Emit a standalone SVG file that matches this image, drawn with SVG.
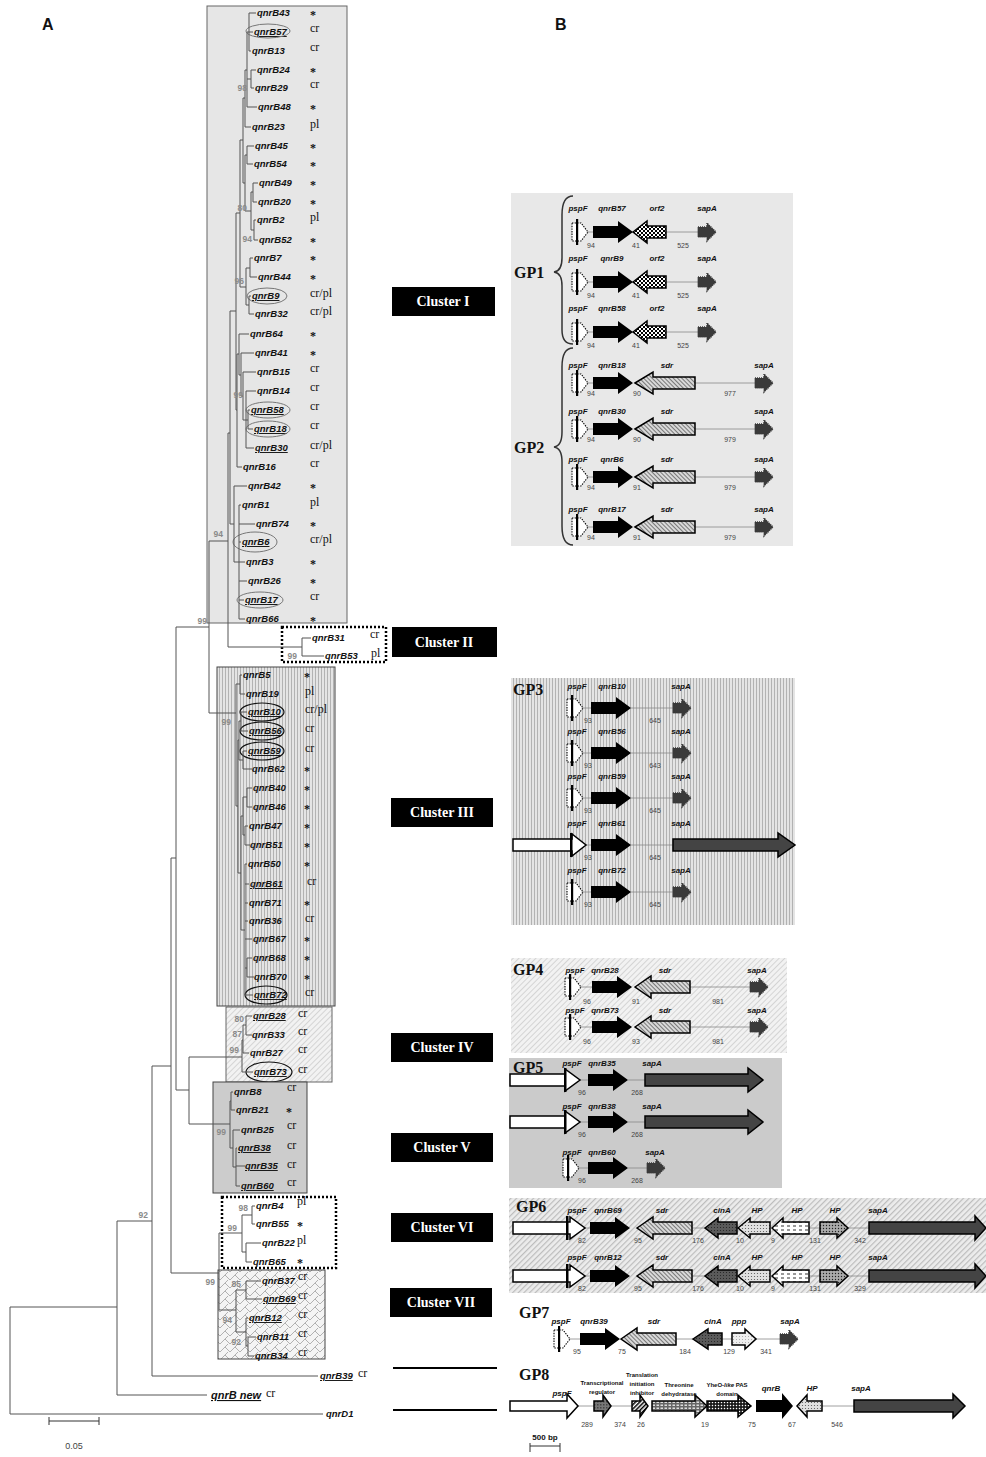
<svg xmlns="http://www.w3.org/2000/svg" xmlns:xlink="http://www.w3.org/1999/xlink" width="986" height="1457" viewBox="0 0 986 1457">
<style>
.lf{font-family:"Liberation Sans",Arial,sans-serif;font-weight:bold;font-style:italic;font-size:9.5px;fill:#111}
.an{font-family:"Liberation Serif","Times New Roman",serif;font-size:12px;fill:#111}
.as{font-family:"Liberation Serif","Times New Roman",serif;font-size:12px;font-weight:bold;fill:#111}
.bs{font-family:"Liberation Sans",Arial,sans-serif;font-weight:bold;font-size:8.5px;fill:#8a8a8a;text-anchor:end}
.gl{font-family:"Liberation Sans",Arial,sans-serif;font-weight:bold;font-style:italic;font-size:8px;text-anchor:middle;fill:#111}
.gs{font-family:"Liberation Sans",Arial,sans-serif;font-weight:bold;font-size:6px;text-anchor:middle;fill:#111}
.nm{font-family:"Liberation Sans",Arial,sans-serif;font-size:7px;fill:#444;text-anchor:middle}
.gp{font-family:"Liberation Serif","Times New Roman",serif;font-weight:bold;font-size:16px;fill:#111}
.cl{font-family:"Liberation Serif","Times New Roman",serif;font-weight:bold;font-size:14px;fill:#fff;text-anchor:middle}
.hd{font-family:"Liberation Sans",Arial,sans-serif;font-weight:bold;font-size:16px;fill:#111}
.u{text-decoration:underline}
.tr{stroke:#555;stroke-width:1;fill:none}
.ln{stroke:#888;stroke-width:0.8;fill:none}
.el{fill:none;stroke:#777;stroke-width:1}
.elk{fill:none;stroke:#111;stroke-width:1.2}
.ol{stroke:#000;stroke-width:1.5}
</style>
<defs>
<pattern id="pV" width="3" height="3" patternUnits="userSpaceOnUse"><rect width="3" height="3" fill="#e4e4e4"/><rect width="1" height="3" fill="#b2b2b2"/></pattern>
<pattern id="pD" width="4" height="4" patternUnits="userSpaceOnUse" patternTransform="rotate(45)"><rect width="4" height="4" fill="#f2f2f2"/><rect width="1" height="4" fill="#d4d4d4"/></pattern>
<pattern id="pG6" width="4" height="4" patternUnits="userSpaceOnUse" patternTransform="rotate(45)"><rect width="4" height="4" fill="#ececec"/><rect width="1.2" height="4" fill="#bcbcbc"/></pattern>
<pattern id="pZ" width="10" height="8" patternUnits="userSpaceOnUse"><rect width="10" height="8" fill="#f4f4f4"/><path d="M0,8 L5,3 L10,8 M5,3 L8,0" stroke="#a0a0a0" fill="none" stroke-width="0.8"/></pattern>
<pattern id="pChk" width="4" height="4" patternUnits="userSpaceOnUse"><rect width="4" height="4" fill="#fff"/><rect width="2" height="2" fill="#000"/><rect x="2" y="2" width="2" height="2" fill="#000"/></pattern>
<pattern id="pSdr" width="3" height="3" patternUnits="userSpaceOnUse" patternTransform="rotate(-45)"><rect width="3" height="3" fill="#d9d9d9"/><rect width="1" height="3" fill="#777"/></pattern>
<pattern id="pCin" width="3" height="3" patternUnits="userSpaceOnUse"><rect width="3" height="3" fill="#5a5a5a"/><rect width="1" height="1" fill="#2a2a2a"/></pattern>
<pattern id="pHpDot" width="3" height="3" patternUnits="userSpaceOnUse"><rect width="3" height="3" fill="#e0e0e0"/><circle cx="1.5" cy="1.5" r="0.6" fill="#555"/></pattern>
<pattern id="pHpDash" width="6" height="4" patternUnits="userSpaceOnUse"><rect width="6" height="4" fill="#fff"/><rect x="1" y="1.5" width="3" height="1" fill="#333"/></pattern>
<pattern id="pHpDot2" width="3" height="3" patternUnits="userSpaceOnUse"><rect width="3" height="3" fill="#aaa"/><circle cx="1.5" cy="1.5" r="0.7" fill="#222"/></pattern>
<pattern id="pPpp" width="3" height="3" patternUnits="userSpaceOnUse"><rect width="3" height="3" fill="#eee"/><circle cx="1.5" cy="1.5" r="0.5" fill="#999"/></pattern>
<pattern id="pTreg" width="3" height="3" patternUnits="userSpaceOnUse"><rect width="3" height="3" fill="#777"/><rect width="1.5" height="1.5" fill="#444"/></pattern>
<pattern id="pTinh" width="3" height="3" patternUnits="userSpaceOnUse" patternTransform="rotate(45)"><rect width="3" height="3" fill="#fff"/><rect width="1.5" height="3" fill="#000"/></pattern>
<pattern id="pThr" width="4" height="3" patternUnits="userSpaceOnUse"><rect width="4" height="3" fill="#666"/><rect x="0.5" y="0.5" width="2.5" height="1.5" fill="#ddd"/></pattern>
<pattern id="pYheo" width="3" height="3" patternUnits="userSpaceOnUse"><rect width="3" height="3" fill="#111"/><rect x="0.8" y="0.8" width="1.4" height="1.4" fill="#fff"/></pattern>
<g id="pspD"><path d="M0,-9 L9,-9 L16,0 L9,9 L0,9 Z" fill="#fff" stroke="#000" stroke-width="1.1" stroke-dasharray="1.4,1.2"/><rect x="4" y="-13" width="2.2" height="26" fill="#000"/></g>
<g id="qB"><path d="M0,-6 L25,-6 L25,-11 L40,0 L25,11 L25,6 L0,6 Z" fill="#000"/></g>
<g id="sapS"><path d="M0,-5 L9,-5 L9,-9 L18,0 L9,9 L9,5 L0,5 Z" fill="#3a3a3a" stroke="#3a3a3a" stroke-width="1.4" stroke-dasharray="1,1"/></g>
<g id="orf2S"><path d="M0,0 L14,-11 L14,-6 L33,-6 L33,6 L14,6 L14,11 Z" fill="url(#pChk)" class="ol"/></g>
<g id="sdr60"><path d="M0,0 L18,-11 L18,-6 L60,-6 L60,6 L18,6 L18,11 Z" fill="url(#pSdr)" class="ol"/></g>
<g id="sdr55"><path d="M0,0 L16,-11 L16,-6 L55,-6 L55,6 L16,6 L16,11 Z" fill="url(#pSdr)" class="ol"/></g>
</defs>
<rect width="986" height="1457" fill="#fff"/>
<text class="hd" x="42" y="30">A</text>
<text class="hd" x="555" y="30">B</text>

<g id="cluster1">
<rect x="207" y="6" width="140" height="617" fill="#e6e6e6" stroke="#666"/>
<g class="lf">
<text x="257" y="16">qnrB43</text><text x="254" y="35" class="u">qnrB57</text><text x="252" y="54">qnrB13</text><text x="257" y="73">qnrB24</text><text x="255" y="91">qnrB29</text><text x="258" y="110">qnrB48</text><text x="252" y="130">qnrB23</text><text x="255" y="149">qnrB45</text><text x="254" y="167">qnrB54</text><text x="259" y="186">qnrB49</text><text x="258" y="205">qnrB20</text><text x="257" y="223">qnrB2</text><text x="259" y="243">qnrB52</text><text x="254" y="261">qnrB7</text><text x="258" y="280">qnrB44</text><text x="252" y="299" class="u">qnrB9</text><text x="255" y="317">qnrB32</text><text x="250" y="337">qnrB64</text><text x="255" y="356">qnrB41</text><text x="257" y="375">qnrB15</text><text x="257" y="394">qnrB14</text><text x="251" y="413" class="u">qnrB58</text><text x="254" y="432" class="u">qnrB18</text><text x="255" y="451" class="u">qnrB30</text><text x="243" y="470">qnrB16</text><text x="248" y="489">qnrB42</text><text x="242" y="508">qnrB1</text><text x="256" y="527">qnrB74</text><text x="242" y="545" class="u">qnrB6</text><text x="246" y="565">qnrB3</text><text x="248" y="584">qnrB26</text><text x="245" y="603" class="u">qnrB17</text><text x="246" y="622">qnrB66</text>
</g>
<g class="an">
<text x="310" y="32">cr</text><text x="310" y="51">cr</text><text x="310" y="88">cr</text><text x="310" y="128">pl</text><text x="310" y="221">pl</text><text x="310" y="297">cr/pl</text><text x="310" y="315">cr/pl</text><text x="310" y="372">cr</text><text x="310" y="391">cr</text><text x="310" y="410">cr</text><text x="310" y="429">cr</text><text x="310" y="449">cr/pl</text><text x="310" y="467">cr</text><text x="310" y="506">pl</text><text x="310" y="543">cr/pl</text><text x="310" y="600">cr</text>
</g>
<g class="as">
<text x="310" y="19">*</text><text x="310" y="76">*</text><text x="310" y="113">*</text><text x="310" y="152">*</text><text x="310" y="170">*</text><text x="310" y="189">*</text><text x="310" y="208">*</text><text x="310" y="246">*</text><text x="310" y="264">*</text><text x="310" y="283">*</text><text x="310" y="340">*</text><text x="310" y="359">*</text><text x="310" y="492">*</text><text x="310" y="530">*</text><text x="310" y="568">*</text><text x="310" y="587">*</text><text x="310" y="625">*</text>
</g>
<ellipse class="el" cx="268" cy="31" rx="22" ry="7"/><ellipse class="el" cx="267" cy="296" rx="20" ry="8"/><ellipse class="el" cx="268" cy="410" rx="22" ry="8"/><ellipse class="el" cx="268" cy="429" rx="22" ry="8"/><ellipse class="el" cx="255" cy="542" rx="22" ry="10"/><ellipse class="el" cx="260" cy="600" rx="23" ry="8"/>
</g>

<g id="cluster2">
<rect x="282" y="627" width="104" height="35" fill="#fff" stroke="#000" stroke-width="2.5" stroke-dasharray="2,2"/>
<text class="lf" x="312" y="641">qnrB31</text><text class="lf" x="325" y="659">qnrB53</text>
<text class="an" x="370" y="638">cr</text><text class="an" x="371" y="657">pl</text>
</g>

<g id="cluster3">
<rect x="217" y="667" width="118" height="339" fill="url(#pV)" stroke="#444"/>
<g class="lf">
<text x="243" y="678">qnrB5</text><text x="246" y="697">qnrB19</text><text x="248" y="715" class="u">qnrB10</text><text x="249" y="734" class="u">qnrB56</text><text x="248" y="754" class="u">qnrB59</text><text x="252" y="772">qnrB62</text><text x="253" y="791">qnrB40</text><text x="253" y="810">qnrB46</text><text x="249" y="829">qnrB47</text><text x="250" y="848">qnrB51</text><text x="248" y="867">qnrB50</text><text x="250" y="887" class="u">qnrB61</text><text x="249" y="906">qnrB71</text><text x="249" y="924">qnrB36</text><text x="253" y="942">qnrB67</text><text x="253" y="961">qnrB68</text><text x="254" y="980">qnrB70</text><text x="254" y="998" class="u">qnrB72</text>
</g>
<g class="an">
<text x="305" y="695">pl</text><text x="305" y="713">cr/pl</text><text x="305" y="732">cr</text><text x="305" y="752">cr</text><text x="307" y="885">cr</text><text x="305" y="922">cr</text><text x="305" y="996">cr</text>
</g>
<g class="as">
<text x="304" y="681">*</text><text x="304" y="775">*</text><text x="304" y="794">*</text><text x="304" y="813">*</text><text x="304" y="832">*</text><text x="304" y="851">*</text><text x="304" y="870">*</text><text x="304" y="909">*</text><text x="304" y="945">*</text><text x="304" y="964">*</text><text x="304" y="983">*</text>
</g>
<ellipse class="elk" cx="262" cy="712" rx="22" ry="9"/><ellipse class="elk" cx="262" cy="731" rx="22" ry="9"/><ellipse class="elk" cx="262" cy="751" rx="22" ry="9"/><ellipse class="elk" cx="266" cy="995" rx="21" ry="9"/>
</g>

<g id="cluster4">
<rect x="226" y="1007" width="106" height="75" fill="url(#pD)" stroke="#666"/>
<text class="lf u" x="253" y="1019">qnrB28</text><text class="lf" x="252" y="1038">qnrB33</text><text class="lf" x="250" y="1056">qnrB27</text><text class="lf u" x="254" y="1075">qnrB73</text>
<text class="an" x="298" y="1017">cr</text><text class="an" x="298" y="1035">cr</text><text class="an" x="298" y="1053">cr</text><text class="an" x="298" y="1073">cr</text>
<ellipse class="elk" cx="269" cy="1072" rx="23" ry="10"/>
</g>

<g id="cluster5">
<rect x="213" y="1082" width="94" height="111" fill="#cccccc" stroke="#444"/>
<text class="lf" x="234" y="1095">qnrB8</text><text class="lf" x="236" y="1113">qnrB21</text><text class="lf" x="241" y="1133">qnrB25</text><text class="lf u" x="238" y="1151">qnrB38</text><text class="lf u" x="245" y="1169">qnrB35</text><text class="lf u" x="241" y="1189">qnrB60</text>
<text class="an" x="287" y="1091">cr</text><text class="as" x="286" y="1116">*</text><text class="an" x="287" y="1129">cr</text><text class="an" x="287" y="1149">cr</text><text class="an" x="287" y="1168">cr</text><text class="an" x="287" y="1186">cr</text>
</g>

<g id="cluster6">
<rect x="222" y="1197" width="114" height="71" fill="#fff" stroke="#000" stroke-width="2.5" stroke-dasharray="2,2"/>
<text class="lf" x="256" y="1209">qnrB4</text><text class="lf" x="256" y="1227">qnrB55</text><text class="lf" x="262" y="1246">qnrB22</text><text class="lf" x="253" y="1265">qnrB65</text>
<text class="an" x="297" y="1205">pl</text><text class="as" x="297" y="1230">*</text><text class="an" x="297" y="1244">pl</text><text class="as" x="297" y="1267">*</text>
</g>

<g id="cluster7">
<rect x="218" y="1270" width="107" height="89" fill="url(#pZ)" stroke="#444"/>
<text class="lf" x="262" y="1284">qnrB37</text><text class="lf u" x="263" y="1302">qnrB69</text><text class="lf u" x="249" y="1321">qnrB12</text><text class="lf" x="257" y="1340">qnrB11</text><text class="lf" x="255" y="1359">qnrB34</text>
<text class="an" x="298" y="1280">cr</text><text class="an" x="298" y="1299">cr</text><text class="an" x="298" y="1318">cr</text><text class="an" x="298" y="1337">cr</text><text class="an" x="298" y="1356">cr</text>
</g>

<g id="outgroups">
<text class="lf u" x="320" y="1379">qnrB39</text><text class="an" x="358" y="1377">cr</text>
<text class="lf u" x="211" y="1399" style="font-size:11px">qnrB new</text><text class="an" x="266" y="1397">cr</text>
<text class="lf" x="326" y="1417">qnrD1</text>
</g>

<g id="connectors">
<path class="tr" d="M249,13V51M249,13H256M249,32H253M249,51H251M251,70V88M251,70H256M251,88H254M247,32V107M247,32H249M247,79H251M247,107H257M245,70V127M245,70H247M245,127H251M247,146V164M247,146H254M247,164H253M253,183V202M253,183H258M253,202H257M254,220V240M254,220H256M254,240H258M251,192V230M251,192H253M251,230H254M245,155V211M245,155H247M245,211H251M243,98V183M243,98H245M243,183H245M250,258V277M250,258H253M250,277H257M249,296V314M249,296H251M249,314H254M246,268V305M246,268H250M246,305H249M240,140V287M240,140H243M240,287H246M248,410V429M248,410H250M248,429H253M246,391V448M246,391H256M246,420H248M246,448H254M243,372V420M243,372H256M243,420H246M241,353V396M241,353H254M241,396H243M239,334V375M239,334H249M239,375H241M237,354V467M237,354H239M237,467H242M236,213V410M236,213H240M236,410H237M239,505V619M239,505H241M239,524H255M239,542H241M239,562H245M239,581H247M239,600H244M239,619H245M234,486V562M234,486H247M234,562H239M230,311V524M230,311H236M230,524H234M228,433V647M228,433H230M228,647H302"/>
<path class="tr" d="M302,638V656M302,638H311M302,656H324"/>
<path class="tr" d="M209,541V713M209,541H228M209,713H236M176,627V1090M176,627H209M171,858V1273M171,858H176M189,1057V1124M176,1090H189M189,1057H242M189,1124H230M152,1066V1376M152,1066H171M152,1376H318M117,1221V1395M117,1221H152M117,1395H207M10,1307V1414M10,1307H117M10,1414H323M171,1273H219"/>
<path class="tr" d="M240,675V694M240,675H242M240,694H245M241,712V731M241,712H247M241,731H248M243,751V769M243,751H247M243,769H252M239,721V760M239,721H241M239,760H243M247,788V807M247,788H252M247,807H252M245,826V845M245,826H248M245,845H250M243,797V835M243,797H247M243,835H245M247,958V977M247,958H252M247,977H254M245,864V995M245,864H247M245,884H249M245,903H248M245,921H248M245,939H252M245,968H247M245,995H253M241,816V930M241,816H243M241,930H245M238,740V873M238,740H239M238,873H241M236,684V806M236,684H240M236,806H238"/>
<path class="tr" d="M246,1016V1035M246,1016H252M246,1035H252M243,1025V1053M243,1025H246M243,1053H249M242,1040V1072M242,1040H243M242,1072H253"/>
<path class="tr" d="M231,1092V1110M231,1092H233M231,1110H235M236,1148V1186M236,1148H237M236,1166H245M236,1186H240M233,1130V1167M233,1130H240M233,1167H236M230,1101V1148M230,1101H231M230,1148H233"/>
<path class="tr" d="M252,1206V1224M252,1206H255M252,1224H255M246,1243V1262M246,1243H261M246,1262H252M242,1215V1252M242,1215H252M242,1252H246M219,1233V1310M219,1233H242"/>
<path class="tr" d="M246,1281V1299M246,1281H261M246,1299H262M248,1337V1356M248,1337H256M248,1356H254M246,1318V1346M246,1318H248M246,1346H248M236,1290V1332M236,1290H246M236,1332H246M219,1310H236"/>
</g>

<g id="bootstraps" class="bs">
<text x="247" y="91">98</text><text x="247" y="211">80</text><text x="252" y="242">94</text><text x="244" y="284">96</text><text x="243" y="398">99</text><text x="223" y="537">94</text><text x="207" y="624">99</text><text x="297" y="659">99</text><text x="231" y="725">99</text><text x="244" y="1022">80</text><text x="242" y="1037">87</text><text x="239" y="1053">99</text><text x="226" y="1135">99</text><text x="248" y="1211">98</text><text x="237" y="1231">99</text><text x="148" y="1218">92</text><text x="215" y="1285">99</text><text x="241" y="1287">85</text><text x="232" y="1323">94</text><text x="241" y="1345">92</text>
</g>

<g id="scaleA">
<path d="M49,1421H99M49,1417V1425M99,1417V1425" stroke="#333" stroke-width="1" fill="none"/>
<text class="nm" x="74" y="1449" style="font-size:9px">0.05</text>
</g>

<g id="label-c1"><rect x="392" y="287" width="103" height="29" fill="#000"/><text class="cl" x="443" y="306">Cluster I</text></g>
<g id="label-c2"><rect x="392" y="627" width="105" height="30" fill="#000"/><text class="cl" x="444" y="647">Cluster II</text></g>
<g id="label-c3"><rect x="391" y="798" width="102" height="29" fill="#000"/><text class="cl" x="442" y="817">Cluster III</text></g>
<g id="label-c4"><rect x="391" y="1033" width="102" height="29" fill="#000"/><text class="cl" x="442" y="1052">Cluster IV</text></g>
<g id="label-c5"><rect x="391" y="1133" width="102" height="29" fill="#000"/><text class="cl" x="442" y="1152">Cluster V</text></g>
<g id="label-c6"><rect x="391" y="1213" width="102" height="29" fill="#000"/><text class="cl" x="442" y="1232">Cluster VI</text></g>
<g id="label-c7"><rect x="390" y="1288" width="102" height="29" fill="#000"/><text class="cl" x="441" y="1307">Cluster VII</text></g>
<g id="leaders"><path d="M393,1368H497M393,1410H497" stroke="#000" stroke-width="2"/></g>

<g id="gp12">
<rect x="511" y="193" width="282" height="353" fill="#e8e8e8"/>
<text class="gp" x="514" y="278">GP1</text>
<text class="gp" x="514" y="453">GP2</text>
<path d="M573,196 Q562,196 562,215 L562,258 Q562,271 554,272 Q562,273 562,286 L562,330 Q562,344 573,344" stroke="#333" stroke-width="1.5" fill="none"/>
<path d="M573,348 Q562,348 562,367 L562,432 Q562,446 554,447 Q562,448 562,462 L562,526 Q562,545 573,545" stroke="#333" stroke-width="1.5" fill="none"/>
<path class="ln" d="M588,232H593M666,232H698M588,282H593M666,282H698M588,332H593M666,332H698M588,383H593M695,383H755M588,429H593M695,429H755M588,477H593M695,477H755M588,527H593M695,527H755"/>
<use href="#pspD" x="572" y="232"/><use href="#qB" x="593" y="232"/><use href="#orf2S" x="633" y="232"/><use href="#sapS" x="698" y="232"/>
<use href="#pspD" x="572" y="282"/><use href="#qB" x="593" y="282"/><use href="#orf2S" x="633" y="282"/><use href="#sapS" x="698" y="282"/>
<use href="#pspD" x="572" y="332"/><use href="#qB" x="593" y="332"/><use href="#orf2S" x="633" y="332"/><use href="#sapS" x="698" y="332"/>
<use href="#pspD" x="572" y="383"/><use href="#qB" x="593" y="383"/><use href="#sdr60" x="635" y="383"/><use href="#sapS" x="755" y="383"/>
<use href="#pspD" x="572" y="429"/><use href="#qB" x="593" y="429"/><use href="#sdr60" x="635" y="429"/><use href="#sapS" x="755" y="429"/>
<use href="#pspD" x="572" y="477"/><use href="#qB" x="593" y="477"/><use href="#sdr60" x="635" y="477"/><use href="#sapS" x="755" y="477"/>
<use href="#pspD" x="572" y="527"/><use href="#qB" x="593" y="527"/><use href="#sdr60" x="635" y="527"/><use href="#sapS" x="755" y="527"/>
<g class="gl">
<text x="578" y="211">pspF</text><text x="612" y="211">qnrB57</text><text x="657" y="211">orf2</text><text x="707" y="211">sapA</text>
<text x="578" y="261">pspF</text><text x="612" y="261">qnrB9</text><text x="657" y="261">orf2</text><text x="707" y="261">sapA</text>
<text x="578" y="311">pspF</text><text x="612" y="311">qnrB58</text><text x="657" y="311">orf2</text><text x="707" y="311">sapA</text>
<text x="578" y="368">pspF</text><text x="612" y="368">qnrB18</text><text x="667" y="368">sdr</text><text x="764" y="368">sapA</text>
<text x="578" y="414">pspF</text><text x="612" y="414">qnrB30</text><text x="667" y="414">sdr</text><text x="764" y="414">sapA</text>
<text x="578" y="462">pspF</text><text x="612" y="462">qnrB6</text><text x="667" y="462">sdr</text><text x="764" y="462">sapA</text>
<text x="578" y="512">pspF</text><text x="612" y="512">qnrB17</text><text x="667" y="512">sdr</text><text x="764" y="512">sapA</text>
</g>
<g class="nm">
<text x="591" y="248">94</text><text x="636" y="248">41</text><text x="683" y="248">525</text>
<text x="591" y="298">94</text><text x="636" y="298">41</text><text x="683" y="298">525</text>
<text x="591" y="348">94</text><text x="636" y="348">41</text><text x="683" y="348">525</text>
<text x="591" y="396">94</text><text x="637" y="396">90</text><text x="730" y="396">977</text>
<text x="591" y="442">94</text><text x="637" y="442">90</text><text x="730" y="442">979</text>
<text x="591" y="490">94</text><text x="637" y="490">91</text><text x="730" y="490">979</text>
<text x="591" y="540">94</text><text x="637" y="540">91</text><text x="730" y="540">979</text>
</g>
</g>

<g id="gp3">
<rect x="511" y="678" width="284" height="247" fill="url(#pV)"/>
<text class="gp" x="513" y="695">GP3</text>
<path class="ln" d="M583,708H591M631,708H673M583,753H591M631,753H673M583,798H591M631,798H673M586,845H591M631,845H673M583,892H591M631,892H673"/>
<use href="#pspD" x="567" y="708"/><use href="#qB" x="591" y="708"/><use href="#sapS" x="673" y="708"/>
<use href="#pspD" x="567" y="753"/><use href="#qB" x="591" y="753"/><use href="#sapS" x="673" y="753"/>
<use href="#pspD" x="567" y="798"/><use href="#qB" x="591" y="798"/><use href="#sapS" x="673" y="798"/>
<path d="M513,839 L572,839 L572,834 L586,845 L572,856 L572,851 L513,851 Z" fill="#fff" class="ol"/><rect x="570" y="833" width="2.5" height="24" fill="#000"/>
<use href="#qB" x="591" y="845"/>
<path d="M673,839 L778,839 L778,833 L795,845 L778,857 L778,851 L673,851 Z" fill="#444" class="ol"/>
<use href="#pspD" x="567" y="892"/><use href="#qB" x="591" y="892"/><use href="#sapS" x="673" y="892"/>
<g class="gl">
<text x="577" y="689">pspF</text><text x="612" y="689">qnrB10</text><text x="681" y="689">sapA</text>
<text x="577" y="734">pspF</text><text x="612" y="734">qnrB56</text><text x="681" y="734">sapA</text>
<text x="577" y="779">pspF</text><text x="612" y="779">qnrB59</text><text x="681" y="779">sapA</text>
<text x="577" y="826">pspF</text><text x="612" y="826">qnrB61</text><text x="681" y="826">sapA</text>
<text x="577" y="873">pspF</text><text x="612" y="873">qnrB72</text><text x="681" y="873">sapA</text>
</g>
<g class="nm">
<text x="588" y="723">93</text><text x="655" y="723">645</text>
<text x="588" y="768">93</text><text x="655" y="768">643</text>
<text x="588" y="813">93</text><text x="655" y="813">645</text>
<text x="588" y="860">93</text><text x="655" y="860">645</text>
<text x="588" y="907">93</text><text x="655" y="907">645</text>
</g>
</g>

<g id="gp4">
<rect x="511" y="958" width="276" height="95" fill="url(#pD)"/>
<text class="gp" x="513" y="975">GP4</text>
<path class="ln" d="M581,987H592M690,987H750M581,1027H592M690,1027H750"/>
<use href="#pspD" x="565" y="987"/><use href="#qB" x="592" y="987"/><use href="#sdr55" x="635" y="987"/><use href="#sapS" x="750" y="987"/>
<use href="#pspD" x="565" y="1027"/><use href="#qB" x="592" y="1027"/><use href="#sdr55" x="635" y="1027"/><use href="#sapS" x="750" y="1027"/>
<g class="gl">
<text x="575" y="973">pspF</text><text x="605" y="973">qnrB28</text><text x="665" y="973">sdr</text><text x="757" y="973">sapA</text>
<text x="575" y="1013">pspF</text><text x="605" y="1013">qnrB73</text><text x="665" y="1013">sdr</text><text x="757" y="1013">sapA</text>
</g>
<g class="nm">
<text x="587" y="1004">96</text><text x="636" y="1004">91</text><text x="718" y="1004">981</text>
<text x="587" y="1044">96</text><text x="636" y="1044">93</text><text x="718" y="1044">981</text>
</g>
</g>

<g id="gp5">
<rect x="509" y="1058" width="273" height="130" fill="#cbcbcb"/>
<text class="gp" x="513" y="1073">GP5</text>
<path class="ln" d="M580,1080H588M628,1080H645M580,1122H588M628,1122H645M579,1168H588M628,1168H647"/>
<path d="M510,1074 L565,1074 L565,1069 L580,1080 L565,1091 L565,1086 L510,1086 Z" fill="#fff" class="ol"/><rect x="564" y="1068" width="2.5" height="24" fill="#000"/>
<use href="#qB" x="588" y="1080"/>
<path d="M645,1074 L748,1074 L748,1068 L763,1080 L748,1092 L748,1086 L645,1086 Z" fill="#444" class="ol"/>
<path d="M510,1116 L565,1116 L565,1111 L580,1122 L565,1133 L565,1128 L510,1128 Z" fill="#fff" class="ol"/><rect x="564" y="1110" width="2.5" height="24" fill="#000"/>
<use href="#qB" x="588" y="1122"/>
<path d="M645,1116 L748,1116 L748,1110 L763,1122 L748,1134 L748,1128 L645,1128 Z" fill="#444" class="ol"/>
<use href="#pspD" x="563" y="1168"/><use href="#qB" x="588" y="1168"/><use href="#sapS" x="647" y="1168"/>
<g class="gl">
<text x="572" y="1066">pspF</text><text x="602" y="1066">qnrB35</text><text x="652" y="1066">sapA</text>
<text x="572" y="1109">pspF</text><text x="602" y="1109">qnrB38</text><text x="652" y="1109">sapA</text>
<text x="572" y="1155">pspF</text><text x="602" y="1155">qnrB60</text><text x="655" y="1155">sapA</text>
</g>
<g class="nm">
<text x="582" y="1095">96</text><text x="637" y="1095">268</text>
<text x="582" y="1137">96</text><text x="637" y="1137">268</text>
<text x="582" y="1183">96</text><text x="637" y="1183">268</text>
</g>
</g>

<g id="gp6">
<rect x="509" y="1198" width="477" height="95" fill="url(#pG6)"/>
<text class="gp" x="516" y="1212">GP6</text>
<path class="ln" d="M585,1228H590M692,1228H705M809,1228H820M848,1228H869M585,1276H590M692,1276H705M809,1276H820M848,1276H869"/>
<path d="M513,1222 L570,1222 L570,1217 L585,1228 L570,1239 L570,1234 L513,1234 Z" fill="#fff" class="ol"/><rect x="566" y="1216" width="2.5" height="24" fill="#000"/>
<use href="#qB" x="590" y="1228"/><use href="#sdr55" x="637" y="1228"/>
<path d="M705,1228 L718,1218 L718,1222 L737,1222 L737,1234 L718,1234 L718,1238 Z" fill="url(#pCin)" class="ol"/>
<path d="M738,1228 L750,1218 L750,1222 L770,1222 L770,1234 L750,1234 L750,1238 Z" fill="url(#pHpDot)" class="ol"/>
<path d="M772,1228 L783,1218 L783,1222 L809,1222 L809,1234 L783,1234 L783,1238 Z" fill="url(#pHpDash)" class="ol"/>
<path d="M820,1222 L837,1222 L837,1218 L848,1228 L837,1238 L837,1234 L820,1234 Z" fill="url(#pHpDot2)" class="ol"/>
<path d="M869,1222 L975,1222 L975,1216 L986,1228 L975,1240 L975,1234 L869,1234 Z" fill="#444" class="ol"/>
<path d="M513,1270 L570,1270 L570,1265 L585,1276 L570,1287 L570,1282 L513,1282 Z" fill="#fff" class="ol"/><rect x="566" y="1264" width="2.5" height="24" fill="#000"/>
<use href="#qB" x="590" y="1276"/><use href="#sdr55" x="637" y="1276"/>
<path d="M705,1276 L718,1266 L718,1270 L737,1270 L737,1282 L718,1282 L718,1286 Z" fill="url(#pCin)" class="ol"/>
<path d="M738,1276 L750,1266 L750,1270 L770,1270 L770,1282 L750,1282 L750,1286 Z" fill="url(#pHpDot)" class="ol"/>
<path d="M772,1276 L783,1266 L783,1270 L809,1270 L809,1282 L783,1282 L783,1286 Z" fill="url(#pHpDash)" class="ol"/>
<path d="M820,1270 L837,1270 L837,1266 L848,1276 L837,1286 L837,1282 L820,1282 Z" fill="url(#pHpDot2)" class="ol"/>
<path d="M869,1270 L975,1270 L975,1264 L986,1276 L975,1288 L975,1282 L869,1282 Z" fill="#444" class="ol"/>
<g class="gl">
<text x="577" y="1213">pspF</text><text x="608" y="1213">qnrB69</text><text x="662" y="1213">sdr</text><text x="722" y="1213">cinA</text><text x="757" y="1213">HP</text><text x="797" y="1213">HP</text><text x="835" y="1213">HP</text><text x="878" y="1213">sapA</text>
<text x="577" y="1260">pspF</text><text x="608" y="1260">qnrB12</text><text x="662" y="1260">sdr</text><text x="722" y="1260">cinA</text><text x="757" y="1260">HP</text><text x="797" y="1260">HP</text><text x="835" y="1260">HP</text><text x="878" y="1260">sapA</text>
</g>
<g class="nm">
<text x="582" y="1243">82</text><text x="638" y="1243">95</text><text x="698" y="1243">176</text><text x="740" y="1243">10</text><text x="773" y="1243">9</text><text x="815" y="1243">131</text><text x="860" y="1243">342</text>
<text x="582" y="1291">82</text><text x="638" y="1291">95</text><text x="698" y="1291">176</text><text x="740" y="1291">10</text><text x="773" y="1291">9</text><text x="815" y="1291">131</text><text x="860" y="1291">329</text>
</g>
</g>

<g id="gp7">
<text class="gp" x="519" y="1318">GP7</text>
<path class="ln" d="M570,1339H580M676,1339H693M722,1339H732M756,1339H780"/>
<use href="#pspD" x="554" y="1339"/><use href="#qB" x="580" y="1339"/><use href="#sdr55" x="621" y="1339"/>
<path d="M693,1339 L708,1329 L708,1333 L722,1333 L722,1345 L708,1345 L708,1349 Z" fill="url(#pCin)" class="ol"/>
<path d="M732,1333 L745,1333 L745,1329 L756,1339 L745,1349 L745,1345 L732,1345 Z" fill="url(#pPpp)" class="ol"/>
<use href="#sapS" x="780" y="1339"/>
<g class="gl">
<text x="561" y="1324">pspF</text><text x="594" y="1324">qnrB39</text><text x="654" y="1324">sdr</text><text x="713" y="1324">cinA</text><text x="739" y="1324">ppp</text><text x="790" y="1324">sapA</text>
</g>
<g class="nm">
<text x="577" y="1354">95</text><text x="622" y="1354">75</text><text x="685" y="1354">184</text><text x="729" y="1354">129</text><text x="766" y="1354">341</text>
</g>
</g>

<g id="gp8">
<text class="gp" x="519" y="1380">GP8</text>
<path class="ln" d="M578,1406H594M611,1406H632M822,1406H854"/>
<path d="M510,1401 L567,1401 L567,1394 L578,1406 L567,1418 L567,1411 L510,1411 Z" fill="#fff" class="ol"/>
<path d="M594,1401 L603,1401 L603,1395 L611,1406 L603,1417 L603,1411 L594,1411 Z" fill="url(#pTreg)" class="ol"/>
<path d="M632,1401 L640,1401 L640,1395 L648,1406 L640,1417 L640,1411 L632,1411 Z" fill="url(#pTinh)" class="ol"/>
<path d="M652,1401 L695,1401 L695,1395 L707,1406 L695,1417 L695,1411 L652,1411 Z" fill="url(#pThr)" class="ol"/>
<path d="M707,1401 L738,1401 L738,1395 L751,1406 L738,1417 L738,1411 L707,1411 Z" fill="url(#pYheo)" class="ol"/>
<path d="M756,1400 L782,1400 L782,1393 L793,1406 L782,1419 L782,1412 L756,1412 Z" fill="#000"/>
<path d="M797,1406 L807,1395 L807,1401 L822,1401 L822,1411 L807,1411 L807,1417 Z" fill="url(#pHpDot)" class="ol"/>
<path d="M854,1400 L953,1400 L953,1394 L965,1406 L953,1418 L953,1412 L854,1412 Z" fill="#444" class="ol"/>
<text class="gl" x="562" y="1396">pspF</text>
<text class="gs" x="602" y="1385">Transcriptional</text><text class="gs" x="602" y="1394">regulator</text>
<text class="gs" x="642" y="1377">Translation</text><text class="gs" x="642" y="1386">initiation</text><text class="gs" x="642" y="1395">inhibitor</text>
<text class="gs" x="679" y="1387">Threonine</text><text class="gs" x="679" y="1396">dehydratase</text>
<text class="gs" x="727" y="1387">YheO-<tspan font-style="italic">like</tspan> PAS</text><text class="gs" x="727" y="1396">domain</text>
<text class="gl" x="771" y="1391">qnrB</text><text class="gl" x="812" y="1391">HP</text><text class="gl" x="861" y="1391">sapA</text>
<g class="nm">
<text x="587" y="1427">289</text><text x="620" y="1427">374</text><text x="641" y="1427">26</text><text x="705" y="1427">19</text><text x="752" y="1427">75</text><text x="792" y="1427">67</text><text x="837" y="1427">546</text>
</g>
</g>

<g id="scaleB">
<text class="gs" x="545" y="1440" style="font-size:8px">500 bp</text>
<path d="M530,1446H560M530,1443V1452M560,1443V1452" stroke="#333" stroke-width="1" fill="none"/>
</g>
</svg>
